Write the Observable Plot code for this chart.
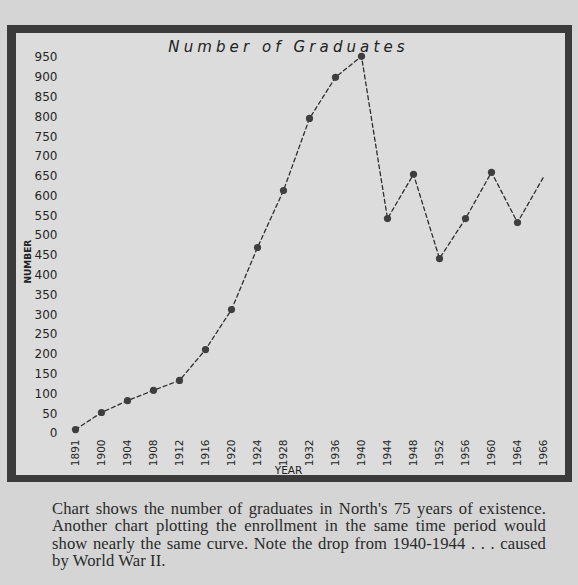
<!DOCTYPE html>
<html>
<head>
<meta charset="utf-8">
<script src="https://cdn.jsdelivr.net/npm/d3@7"></script>
<script src="https://cdn.jsdelivr.net/npm/@observablehq/plot@0.6"></script>
<style>
  html, body { margin: 0; padding: 0; background: #d5d5d5; }
  body { width: 578px; height: 585px; position: relative; overflow: hidden; }
  #box {
    position: absolute; left: 7px; top: 25px;
    width: 549px; height: 442px;
    border-style: solid; border-color: #3b3b3b;
    border-width: 8px 7px 7px 9px;
    background: #dcdcdc;
  }
  #caption {
    position: absolute; left: 52px; top: 500px; width: 494px;
    font-family: "Liberation Serif", "DejaVu Serif", serif;
    font-size: 16.6px; line-height: 17.4px; color: #2a2a2a; letter-spacing: 0.1px;
  }
  #caption span { display: block; text-align: justify; text-align-last: justify; white-space: nowrap; }
  #caption span.last { text-align-last: left; }
</style>
</head>
<body>
<div id="box"></div>
<div id="caption">
  <span>Chart shows the number of graduates in North's 75 years of existence.</span>
  <span>Another chart plotting the enrollment in the same time period would</span>
  <span>show nearly the same curve. Note the drop from 1940-1944 . . . caused</span>
  <span class="last">by World War II.</span>
</div>
<script>
const years = ["1891","1900","1904","1908","1912","1916","1920","1924","1928","1932","1936","1940","1944","1948","1952","1956","1960","1964","1966"];
const graduates = [10, 53, 83, 109, 134, 212, 313, 470, 614, 796, 900, 953, 543, 655, 442, 543, 660, 533, 648];
const yTicks = [0,50,100,150,200,250,300,350,400,450,500,550,600,650,700,750,800,850,900,950];
const titleText = "Number of Graduates";
const xLabel = "YEAR";
const yLabel = "NUMBER";

const data = years.map((y, i) => ({year: y, value: graduates[i]}));
const dotted = data.slice(0, data.length - 1);

const hand = "'DejaVu Sans', sans-serif";

const chart = Plot.plot({
  width: 549,
  height: 442,
  marginLeft: 54,
  marginRight: 17,
  marginTop: 24,
  marginBottom: 42,
  style: {background: "transparent", fontFamily: hand, color: "#2b2b2b", overflow: "visible"},
  x: {type: "point", domain: years, padding: 0},
  y: {domain: [0, 950]},
  marks: [
    Plot.axisY({ticks: yTicks, tickSize: 0, tickPadding: 13, fontSize: 12, label: null, fill: "#262626"}),
    Plot.axisX({tickSize: 0, tickPadding: 6, tickRotate: -90, fontSize: 10.5, label: null, fill: "#262626"}),
    Plot.line(data, {x: "year", y: "value", stroke: "#2e2e2e", strokeWidth: 1.3, strokeDasharray: "4,3"}),
    Plot.dot(dotted, {x: "year", y: "value", r: 3.6, fill: "#3e3e3e", stroke: "none"}),
    Plot.text([titleText], {frameAnchor: "top", dx: -21, dy: -16, fontSize: 15, fontStyle: "italic", fill: "#222"}),
    Plot.text([xLabel], {frameAnchor: "bottom", dx: -21, dy: 40, fontSize: 10.5, fill: "#222"}),
    Plot.text([yLabel], {frameAnchor: "left", dx: -42, dy: 38, rotate: -90, fontSize: 9, fontWeight: "bold", fill: "#222"})
  ]
});
d3.select(chart).selectAll("text")
  .filter(function() { return this.textContent === titleText; })
  .style("letter-spacing", "4.1px");
document.getElementById("box").appendChild(chart);
</script>
</body>
</html>
